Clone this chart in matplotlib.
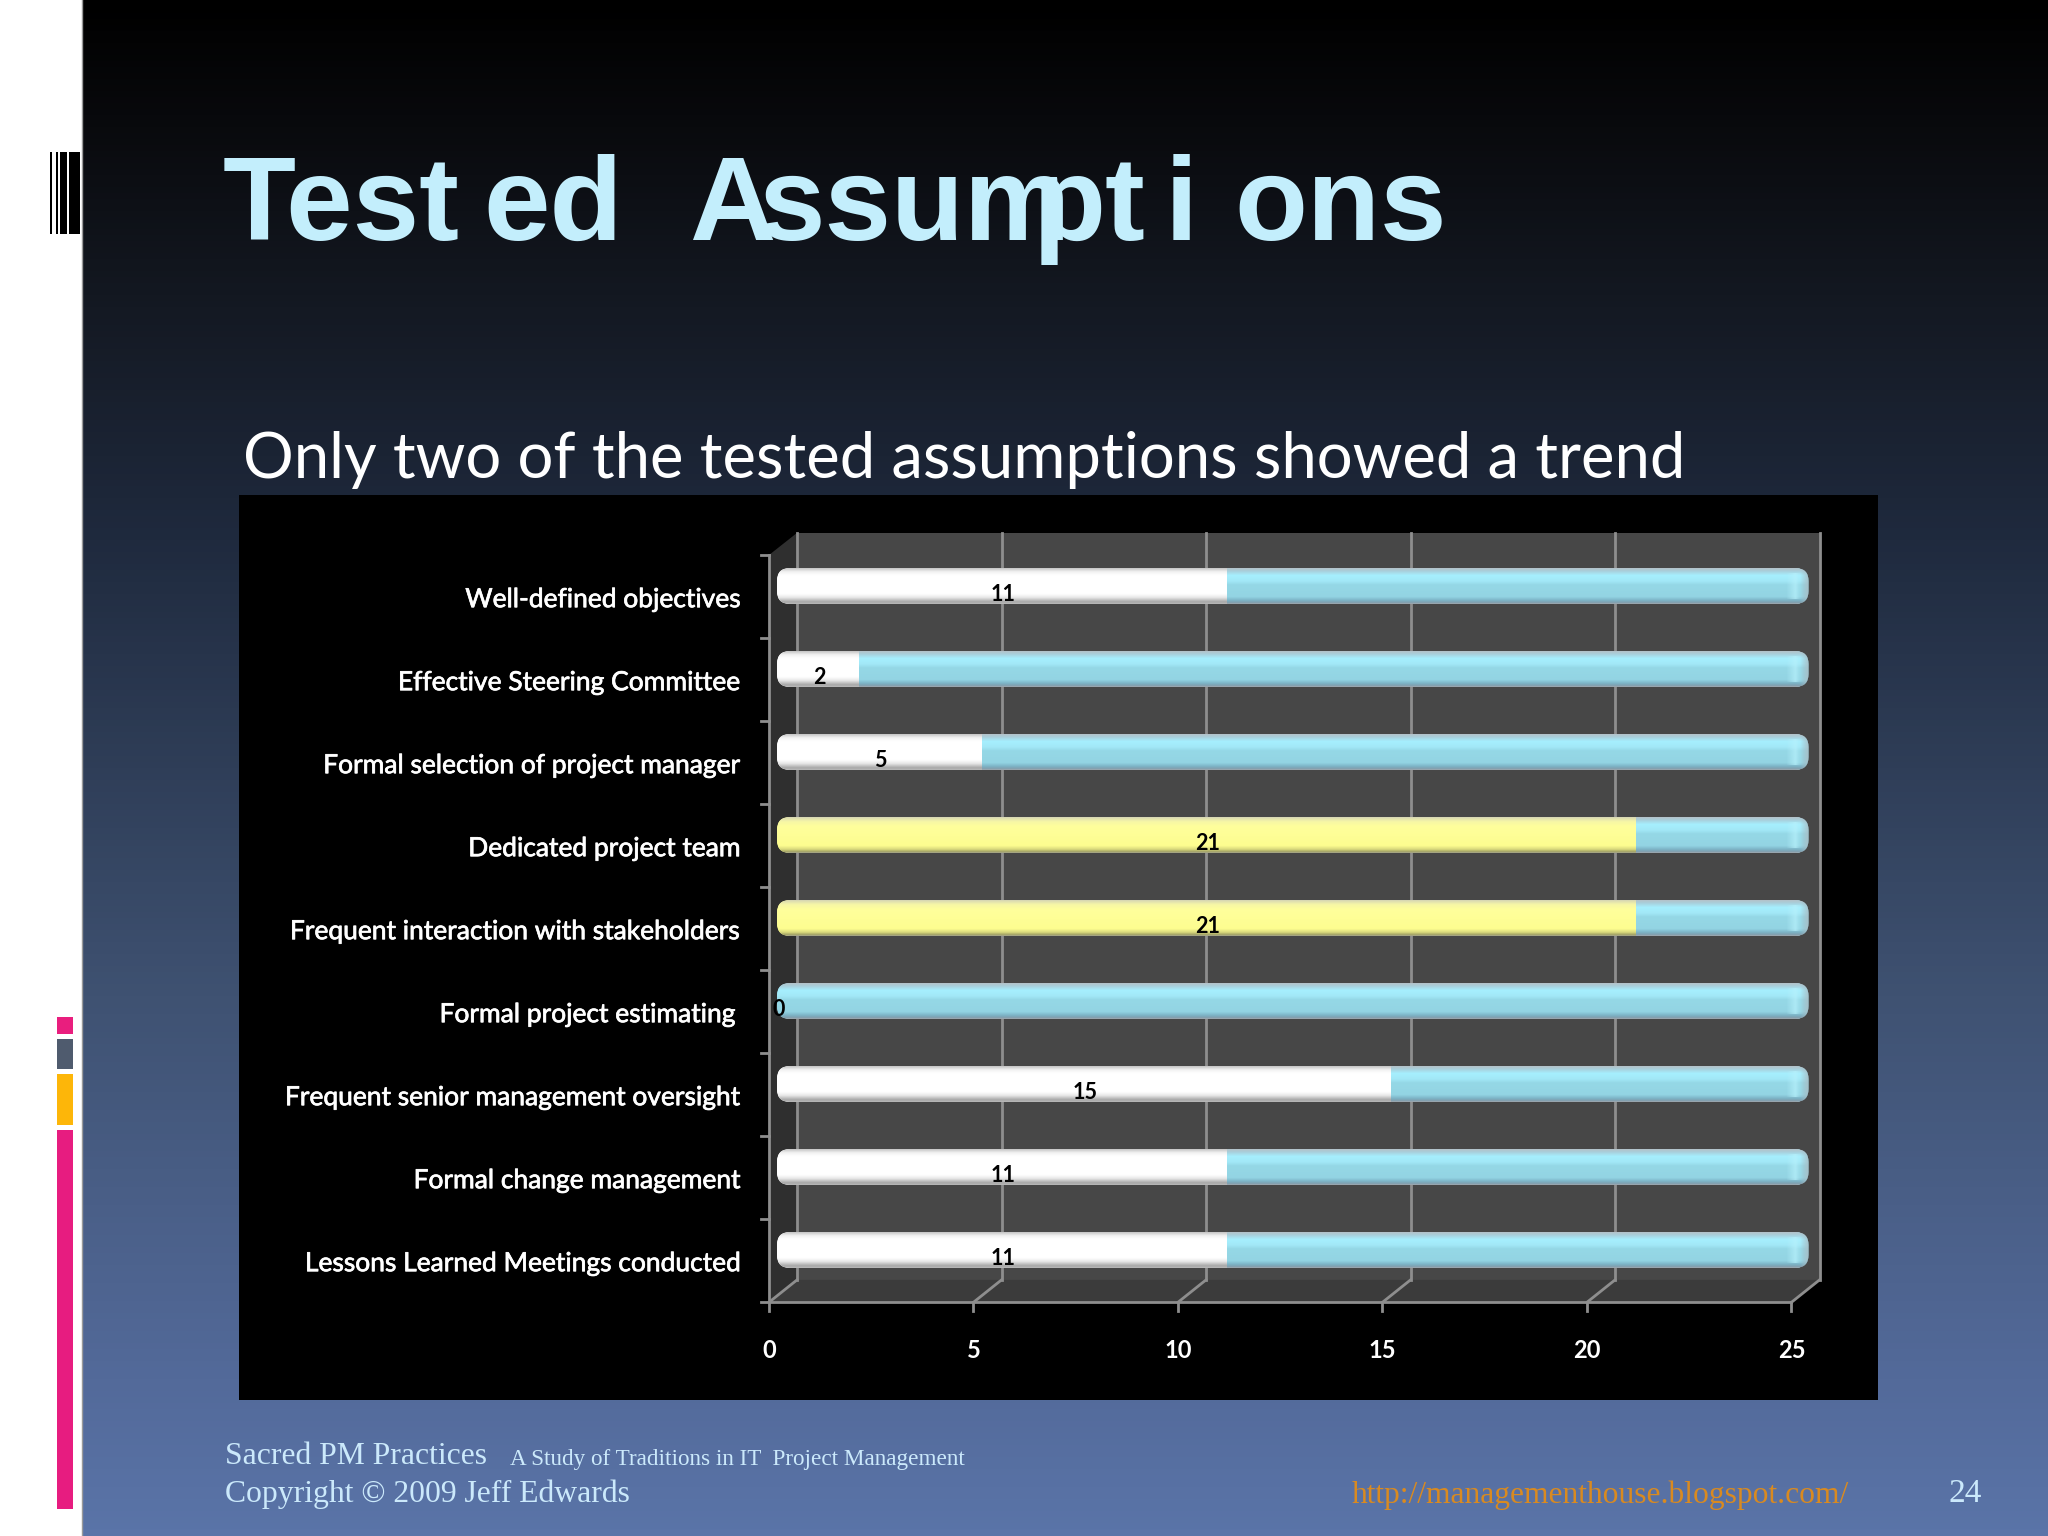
import numpy as np
import matplotlib
matplotlib.use("Agg")
import matplotlib.pyplot as plt
import matplotlib.patheffects as pe
from matplotlib.colors import LinearSegmentedColormap, to_rgb
from matplotlib.patches import FancyBboxPatch, Polygon, Rectangle

# Data

categories = [
    "Well-defined objectives",
    "Effective Steering Committee",
    "Formal selection of project manager",
    "Dedicated project team",
    "Frequent interaction with stakeholders",
    "Formal project estimating",
    "Frequent senior management oversight",
    "Formal change management",
    "Lessons Learned Meetings conducted",
]
yes_counts = [11, 2, 5, 21, 21, 0, 15, 11, 11]
totals = [25, 25, 25, 25, 25, 25, 25, 25, 25]
highlighted = [False, False, False, True, True, False, False, False, False]
x_ticks = [0, 5, 10, 15, 20, 25]

# the slide title has broken letter spacing, so it is placed in pieces
title_parts = [("Test", 223), ("ed", 483), ("A", 689), ("ssum", 759), ("pt", 1032), ("i", 1165), ("ons", 1234)]
subtitle = "Only two of the tested assumptions showed a trend"

# Colours

BLUE = [(0, "#b4c2c9"), (0.08, "#a9cfdb"), (0.2, "#a6effe"), (0.36, "#a2e8f7"), (0.46, "#95d8e6"),
        (0.8, "#93d4e3"), (0.9, "#7db4c6"), (0.96, "#7f9fb0"), (1, "#a0a8ae")]
WHITE = [(0, "#c4c4c4"), (0.1, "#f2f2f2"), (0.2, "#ffffff"), (0.72, "#ffffff"), (0.82, "#e8e8e8"),
         (0.94, "#a8a8a8"), (1, "#b8b8b8")]
YELLOW = [(0, "#d6d6b4"), (0.12, "#f6f6a6"), (0.25, "#ffff9c"), (0.8, "#fdfd90"), (0.9, "#d9d97c"),
          (0.96, "#a5a564"), (1, "#a6a68c")]
BG_STOPS = [(0, "#000000"), (0.08, "#090a0d"), (0.2, "#141923"), (0.35, "#1f2a3e"), (0.65, "#3f5272"),
            (0.9, "#536a9a"), (1, "#5a74a8")]

fig = plt.figure(figsize=(20.48, 15.36), dpi=100)

# Slide background in pixel coordinates

bg = fig.add_axes([0, 0, 1, 1])
bg.set_xlim(0, 2048)
bg.set_ylim(1536, 0)
bg.axis("off")
bg_cmap = LinearSegmentedColormap.from_list("bg", BG_STOPS)
bg.imshow(np.linspace(0, 1, 512).reshape(-1, 1), cmap=bg_cmap, extent=(82, 2048, 1536, 0), aspect="auto")
bg.set_xlim(0, 2048)
bg.set_ylim(1536, 0)
bg.axvline(81.5, color="#9a9a9a", lw=1)

for x0, x1 in [(50, 52), (56, 58), (60, 67), (69, 80)]:
    bg.add_patch(Rectangle((x0, 152), x1 - x0, 82, color="black", lw=0))
for y0, y1, col in [(1017, 1034, "#e91e7e"), (1039, 1069, "#4f5b6e"), (1074, 1125, "#fdb609"), (1130, 1509, "#e71c80")]:
    bg.add_patch(Rectangle((57, y0), 16, y1 - y0, color=col, lw=0))
bg.add_patch(Rectangle((239, 495), 1639, 905, color="black", lw=0))

for part, x in title_parts:
    bg.text(x, 240, part, family="Liberation Sans", fontweight="bold", fontsize=86, color="#c3eefc",
            va="baseline", ha="left")
bg.text(243, 478, subtitle, family="Lato", fontsize=45.6, color="white", va="baseline", ha="left")

serif = "Liberation Serif"
bg.text(225, 1464, "Sacred PM Practices", family=serif, fontsize=22.8, color="#cbe9fb", va="baseline")
bg.text(510, 1465, "A Study of Traditions in IT  Project Management", family=serif, fontsize=16.7, color="#cbe9fb", va="baseline")
bg.text(225, 1502, "Copyright © 2009 Jeff Edwards", family=serif, fontsize=22.8, color="#cbe9fb", va="baseline")
bg.text(1352, 1503, "http://managementhouse.blogspot.com/", family=serif, fontsize=22.7, color="#d98a20", va="baseline")
bg.text(1949, 1502, "24", family=serif, fontsize=24, color="#cbe9fb", va="baseline")

# Chart axes: the plane of the bars, 40.9 px per unit, one spare unit on the right for the end caps

ax = fig.add_axes([777 / 2048, 1 - 1333 / 1536, 26 * 40.9 / 2048, 830 / 1536])
ax.axis("off")

front = -0.196
back = 0.49
top_front, top_back = -0.373, -0.64
bot_front, bot_back = 8.63, 8.36
GRID = "#8e8e8e"
LW = 2


def fx(t):
    return t + front


def bx(t):
    return t + back


x_min, x_max = x_ticks[0], x_ticks[-1]
walls = [
    ([(bx(x_min), top_back), (bx(x_max), top_back), (bx(x_max), bot_back), (bx(x_min), bot_back)], "#474747"),
    ([(fx(x_min), top_front), (bx(x_min), top_back), (bx(x_min), bot_back), (fx(x_min), bot_front)], "#2f2f2f"),
    ([(fx(x_min), bot_front), (bx(x_min), bot_back), (bx(x_max), bot_back), (fx(x_max), bot_front)], "#3b3b3b"),
]
for pts, col in walls:
    ax.add_patch(Polygon(pts, closed=True, color=col, lw=0, clip_on=False, zorder=1))

for t in x_ticks:
    ax.plot([bx(t), bx(t)], [top_back, bot_back], color=GRID, lw=LW, clip_on=False, zorder=2)
    ax.plot([bx(t), fx(t)], [bot_back, bot_front], color=GRID, lw=LW, clip_on=False, zorder=2)
    ax.plot([fx(t), fx(t)], [bot_front, bot_front + 0.11], color=GRID, lw=LW, clip_on=False, zorder=2)
    ax.text(fx(t), bot_front + 0.58, str(t), family="Lato", fontweight="bold", fontsize=17, color="white",
            ha="center", va="center", clip_on=False)
ax.plot([fx(x_min), fx(x_min)], [top_front, bot_front], color=GRID, lw=LW, clip_on=False, zorder=2)
ax.plot([fx(x_min), fx(x_max)], [bot_front, bot_front], color=GRID, lw=LW, clip_on=False, zorder=2)
for i in range(len(categories) + 1):
    tick_y = top_front + (bot_front - top_front) * i / len(categories)
    ax.plot([fx(x_min) - 0.2, fx(x_min)], [tick_y, tick_y], color=GRID, lw=LW, clip_on=False, zorder=2)

# Bars

y = np.arange(len(categories))
rest = [t - v for t, v in zip(totals, yes_counts)]
bar_h = 36 / 83
overhang = 9 / 40.9  # rounded end cap sticks out past the value
first_colors = ["#fdfd90" if h else "#ffffff" for h in highlighted]
first = ax.barh(y, yes_counts, height=bar_h, color=first_colors, lw=0, zorder=3)
second = ax.barh(y, rest, height=bar_h, left=yes_counts, color="#95d8e6", lw=0, zorder=3)


def gradient(stops):
    return LinearSegmentedColormap.from_list("g", stops, N=256)


ramp = np.linspace(0, 1, 128).reshape(-1, 1)
round_x = 13 / 40.9
round_y = 13 / 83
for i in range(len(categories)):
    end = totals[i] + overhang
    outline = FancyBboxPatch((0, i - bar_h / 2), end, bar_h,
                             boxstyle=f"round,pad=0,rounding_size={round_x}",
                             mutation_aspect=round_y / round_x, transform=ax.transData,
                             facecolor="none", edgecolor="none")
    ax.add_patch(outline)
    if yes_counts[i] > 0:
        im = ax.imshow(ramp, cmap=gradient(YELLOW if highlighted[i] else WHITE), aspect="auto", zorder=4,
                       extent=(0, first[i].get_width(), i + bar_h / 2, i - bar_h / 2))
        im.set_clip_path(outline)
    im = ax.imshow(ramp, cmap=gradient(BLUE), aspect="auto", zorder=4,
                   extent=(second[i].get_x(), end, i + bar_h / 2, i - bar_h / 2))
    im.set_clip_path(outline)
    # lighter glint and greyer edge on the rounded right end
    cap = np.zeros((1, 40, 4))
    cap[0, :, :3] = to_rgb("#b8f2fd")
    cap[0, :, 3] = np.interp(np.linspace(0, 1, 40), [0, 0.5, 0.7, 1], [0, 0.7, 0.25, 0])
    im = ax.imshow(cap, aspect="auto", zorder=5,
                   extent=(end - 0.55, end - 0.1, i + bar_h / 2 - 0.06, i - bar_h / 2 + 0.07))
    im.set_clip_path(outline)
    edge = np.zeros((1, 20, 4))
    edge[0, :, :3] = to_rgb("#a9bcc4")
    edge[0, :, 3] = np.linspace(0, 0.9, 20)
    im = ax.imshow(edge, aspect="auto", zorder=5,
                   extent=(end - 0.2, end, i + bar_h / 2, i - bar_h / 2))
    im.set_clip_path(outline)
    first[i].set_clip_path(outline)
    second[i].set_clip_path(outline)

# Value labels, drawn at the middle of the first segment

for i, v in enumerate(yes_counts):
    ax.text(v / 2 + 0.03, i + 0.1, str(v), family="Lato", fontweight="bold", fontsize=15.5, color="black",
            ha="center", va="center", zorder=6, clip_on=False)

# Category labels

stroke = [pe.withStroke(linewidth=0.5, foreground="white")]
for i, label in enumerate(categories):
    shift = -0.12 if label == "Formal project estimating" else 0
    ax.text(-0.87 + shift, i + 0.165, label, family="Lato", fontsize=19, color="white",
            ha="right", va="center", clip_on=False, path_effects=stroke)

ax.set_xlim(0, 26)
ax.set_ylim(9, -1)

fig.savefig("out.png", dpi=100)
